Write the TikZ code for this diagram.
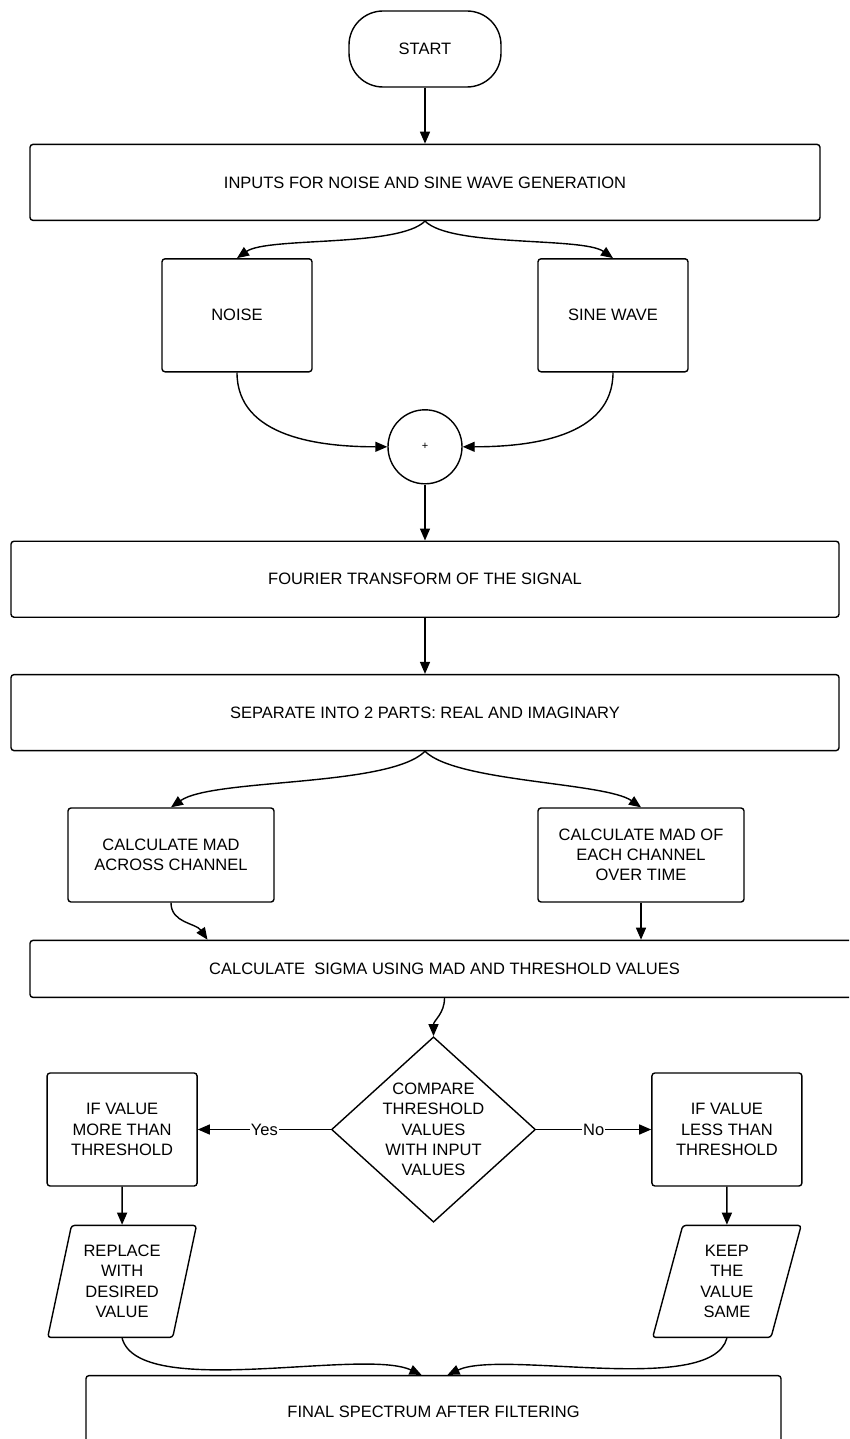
\documentclass[tikz,border=0pt]{standalone}
\usepackage{fontspec}
\setmainfont{Liberation Sans}
\usetikzlibrary{arrows.meta,positioning,shapes.geometric}

\begin{document}
\begin{tikzpicture}[x=1pt, y=1pt, node distance=56pt and 40pt,
  every node/.style={font=\fontsize{16.5}{20.3}\selectfont},
  box/.style={draw, line width=1.4pt, rounded corners=3pt, align=center, inner sep=0pt},
  term/.style={box, rounded corners=34pt, minimum width=152pt, minimum height=76pt},
  wide/.style={box, minimum width=#1, minimum height=76pt},
  small/.style={box, minimum width=150pt, minimum height=113pt},
  mad/.style={box, minimum width=206pt, minimum height=94pt},
  io/.style={draw, line width=1.4pt, trapezium, trapezium left angle=76, trapezium right angle=104, trapezium stretches, minimum width=149pt, minimum height=112pt, align=center, inner sep=0pt, rounded corners=3pt},
  decide/.style={draw, line width=1.4pt, diamond, aspect=1.1, minimum width=204pt, minimum height=185pt, inner sep=0pt, align=center},
  junc/.style={draw, line width=1.4pt, circle, minimum size=74pt, inner sep=0pt, font=\fontsize{11}{13}\selectfont},
  arr/.style={-{Triangle[length=12pt,width=10pt]}, line width=1.4pt},
  lbl/.style={fill=white, inner sep=1pt}]
\useasboundingbox (0,0) rectangle (849,-1439);
\clip (0,0) rectangle (849,-1439);
\node[term] (start) at (425,-49) {START};
\node[wide=790pt, below=of start] (inputs) {INPUTS FOR NOISE AND SINE WAVE GENERATION};
\node[small, below=37pt of inputs, xshift=-188pt] (noise) {NOISE};
\node[small, below=37pt of inputs, xshift=188pt] (sine) {SINE WAVE};
\node[junc, below=188pt of inputs] (sum) {+};
\node[wide=828pt, below=of sum] (fourier) {FOURIER TRANSFORM OF THE SIGNAL};
\node[wide=828pt, below=of fourier] (separate) {SEPARATE INTO 2 PARTS: REAL AND IMAGINARY};
\node[mad, below=of separate, xshift=-254pt] (madA) {CALCULATE MAD\\ACROSS CHANNEL};
\node[mad, below=of separate, xshift=216pt] (madB) {CALCULATE MAD OF\\EACH CHANNEL\\OVER TIME};
\node[box, anchor=north west, minimum width=829pt, minimum height=57pt] (sigma) at ([yshift=-37pt]madA.south -| inputs.west) {CALCULATE\ \ SIGMA USING MAD AND THRESHOLD VALUES};
\node[decide, below=38pt of sigma, xshift=-11pt] (compare) {COMPARE\\THRESHOLD\\VALUES\\WITH INPUT\\VALUES};
\node[small, left=133pt of compare] (more) {IF VALUE\\MORE THAN\\THRESHOLD};
\node[small, right=115pt of compare] (less) {IF VALUE\\LESS THAN\\THRESHOLD};
\node[io, below=38pt of more] (replace) {REPLACE\\WITH\\DESIRED\\VALUE};
\node[io, below=38pt of less] (keep) {KEEP\\THE\\VALUE\\SAME};
\node[box, minimum width=695pt, minimum height=72pt, below=152pt of compare] (final) {FINAL SPECTRUM AFTER FILTERING};
% connectors
\draw[arr] (start) -- (inputs);
\draw[arr] (inputs.south) to[out=-135,in=35,looseness=0.5] (noise.north);
\draw[arr] (inputs.south) to[out=-45,in=145,looseness=0.5] (sine.north);
\draw[arr] (noise.south) to[out=-90,in=180] (sum.west);
\draw[arr] (sine.south) to[out=-90,in=0] (sum.east);
\draw[arr] (sum) -- (fourier);
\draw[arr] (fourier) -- (separate);
\draw[arr] (separate.south) to[out=-135,in=35,looseness=0.5] (madA.north);
\draw[arr] (separate.south) to[out=-45,in=145,looseness=0.5] (madB.north);
\draw[arr] (madA.south) to[out=-90,in=125] ([xshift=-237pt]sigma.north);
\draw[arr] (madB.south) -- (madB.south |- sigma.north);
\draw[arr] (sigma.south) to[out=-90,in=90] (compare.north);
\draw[arr] (compare.west) -- node[lbl] {Yes} (more.east);
\draw[arr] (compare.east) -- node[lbl] {No} (less.west);
\draw[arr] (more) -- (replace);
\draw[arr] (less) -- (keep);
\draw[arr] (replace.south) to[out=-75,in=155,looseness=0.55] ([xshift=-12pt]final.north);
\draw[arr] (keep.south) to[out=-105,in=25,looseness=0.55] ([xshift=14pt]final.north);
\end{tikzpicture}
\end{document}
